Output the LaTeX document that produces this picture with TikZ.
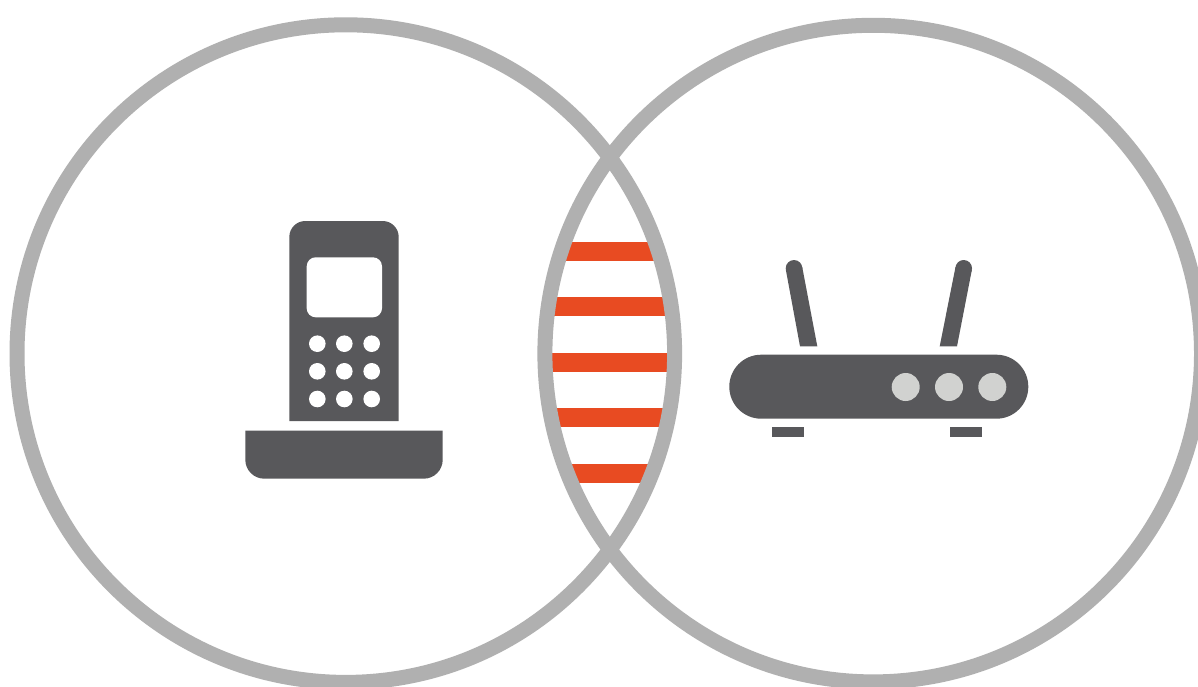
\documentclass[tikz,border=0pt]{standalone}
\definecolor{ring}{HTML}{B0B0B0}
\definecolor{slate}{HTML}{58585B}
\definecolor{stripe}{HTML}{E84B22}
\definecolor{led}{HTML}{D1D2D0}
\tikzset{ringline/.style={draw=ring,line width=15pt}}
\begin{document}
\begin{tikzpicture}[x=1pt,y=-1pt]
\clip (0,0) rectangle (1198,687);
\fill[white] (0,0) rectangle (1198,687);
% stripes between the two rings
\begin{scope}
\clip (345.8,353.6) circle (328.8pt);
\clip (873.2,353.6) circle (328.3pt);
\foreach \y in {241.7,297.3,352.8,408.3,464.2}{\fill[stripe] (500,\y) rectangle (720,\y+19);}
\end{scope}
\draw[ringline] (345.8,353.6) circle (328.8pt);
\draw[ringline] (873.2,353.6) circle (328.3pt);
% handset
\fill[slate] (289.3,421) [rounded corners=16pt] -- (289.3,221) -- (398.7,221) [sharp corners] -- (398.7,421) -- cycle;
\fill[white,rounded corners=9pt] (306.7,257.3) rectangle (382,317.3);
\foreach \x in {317.3,344.3,371.7}{\foreach \y in {343.7,371.3,399}{\fill[white] (\x,\y) circle (8.3pt);}}
\fill[slate] (245.3,430.7) -- (442.7,430.7) [rounded corners=19pt] -- (442.7,478.7) -- (245.3,478.7) [sharp corners] -- (245.3,430.7) -- cycle;
% router
\fill[slate] (800,346.3) -- (785.84,269.83) -- (802.16,266.77) -- (817.3,346.3) -- cycle;
\fill[slate] (794,268.3) circle (8.3pt);
\fill[slate] (957,346.3) -- (971.86,269.83) -- (955.54,266.77) -- (939.7,346.3) -- cycle;
\fill[slate] (963.7,268.3) circle (8.3pt);
\fill[slate,rounded corners=31.9pt] (729.3,354.7) rectangle (1028.3,418.7);
\foreach \x in {905.7,949,992.3}{\fill[led] (\x,387) circle (14pt);}
\foreach \x in {771.7,949.7}{\fill[slate] (\x,426.7) rectangle (\x+32,437);}
\end{tikzpicture}
\end{document}
